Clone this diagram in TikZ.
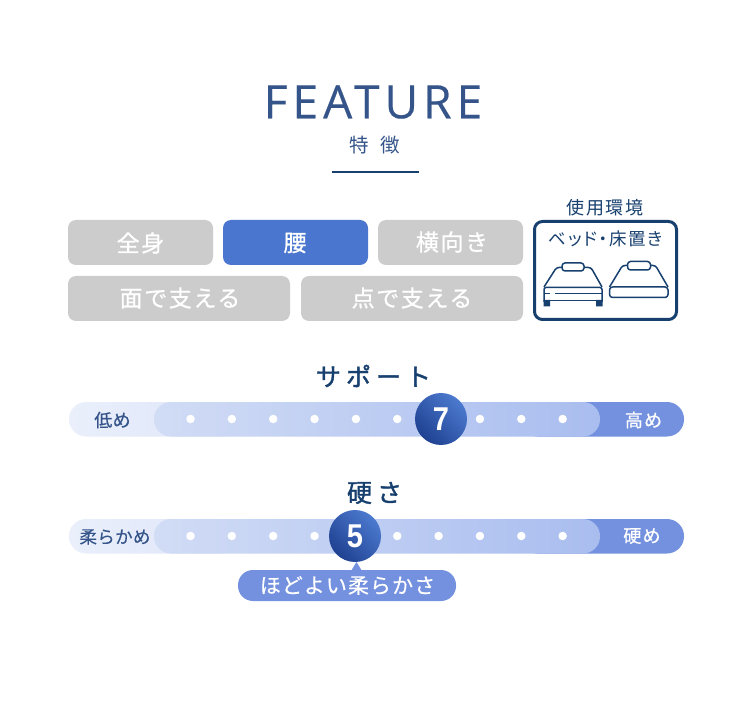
\documentclass[tikz,border=0pt]{standalone}
\usepackage{fontspec}
\usepackage{graphicx}
\setmainfont{Noto Sans CJK JP}
\newfontfamily\latinfeat[LetterSpace=11,FakeBold=0.3]{Open Sans}
\newfontfamily\numfont{Liberation Sans}
\newfontfamily\jpw[LetterSpace=7,FakeBold=0.8]{Noto Sans CJK JP}
\newfontfamily\jpn[LetterSpace=2,FakeBold=0.5]{Noto Sans CJK JP}
\newfontfamily\jpt[LetterSpace=60]{Noto Sans CJK JP}
\newfontfamily\jph[LetterSpace=20,FakeBold=1.5]{Noto Sans CJK JP}
\definecolor{navy}{HTML}{17406F}
\definecolor{ink}{HTML}{35558A}
\definecolor{chip}{HTML}{CCCCCC}
\definecolor{active}{HTML}{4A76CF}
\definecolor{midblue}{HTML}{7391DE}
\definecolor{balllight}{HTML}{4C7ACF}
\definecolor{balldark}{HTML}{1F4191}
\definecolor{paleL}{HTML}{EAEFFB}
\definecolor{paleR}{HTML}{DDE5F8}
\definecolor{innerL}{HTML}{D1DCF5}
\definecolor{innerR}{HTML}{A9BDEF}
\tikzset{
 chipbox/.style={fill=chip,rounded corners=8pt,draw=none},
 chiptext/.style={text=white,font=\jpw\fontsize{23}{23}\selectfont,inner sep=0pt,anchor=center},
 scaletitle/.style={text=navy,font=\jph\fontsize{25}{25}\selectfont,inner sep=0pt},
 endlabel/.style={text=ink,font=\jpn\fontsize{18}{18}\selectfont,inner sep=0pt},
 endlabelw/.style={text=white,font=\jpw\fontsize{18}{18}\selectfont,inner sep=0pt},
 dot/.style={circle,fill=white,inner sep=0pt,minimum size=8.5pt},
 ball/.style={circle,minimum size=52pt,inner sep=0pt,
   shading=axis,left color=balllight,right color=balldark,shading angle=-45,
   text=white},
 bedline/.style={draw=navy,line width=1.5pt,line join=round},
}
\newcommand{\scalebar}[2]{%
  \fill[midblue,rounded corners=17pt] (520,#1) rectangle (684,#1+34.5);
  \shade[left color=paleL,right color=paleR,rounded corners=17pt] (69,#1) rectangle (240,#1+34.5);
  \shade[left color=innerL,right color=innerR,rounded corners=17pt] (154,#1) rectangle (600,#1+34.5);
  \foreach \i in {0,...,9}{\node[dot] (d#2\i) at (190.5+41.35*\i,#1+17) {};}
}
\newcommand{\ballnum}[1]{\scalebox{.88}[1]{\fontsize{33}{33}\selectfont\numfont\bfseries #1}}
\begin{document}
\begin{tikzpicture}[x=1pt,y=-1pt]
\useasboundingbox[fill=white] (0,0) rectangle (750,719);
% heading
\node[text=ink,font=\latinfeat\fontsize{46}{46}\selectfont,inner sep=0pt] (title) at (373,102) {FEATURE};
\node[text=ink,font=\jpt\fontsize{19.5}{20}\selectfont,inner sep=0pt] (subtitle) at (374.5,145) {特徴};
\draw[navy,line width=2pt] (332,172) -- (419,172);
% chips
\fill[chipbox] (68,220) rectangle (213,265);
\node[chiptext] (c1) at (140.5,243) {全身};
\fill[chipbox,fill=active] (223,220) rectangle (368,265);
\node[chiptext] (c2) at (295,243) {腰};
\fill[chipbox] (378,220) rectangle (523,265);
\node[chiptext] (c3) at (452,242) {横向き};
\fill[chipbox] (68,276) rectangle (290,321);
\node[chiptext] (c4) at (180,298) {面で支える};
\fill[chipbox] (301,276) rectangle (523,321);
\node[chiptext] (c5) at (412,298) {点で支える};
% environment box
\node[text=navy,font=\fontsize{18}{18}\selectfont,inner sep=0pt] (envt) at (605,208) {\addfontfeature{LetterSpace=8}使用環境};
\draw[navy,line width=3pt,rounded corners=8pt,fill=white] (534.5,221.5) rectangle (676.5,319.5);
\node[text=navy,font=\fontsize{17.5}{18}\selectfont,inner sep=0pt] (envs) at (605.5,239) {\addfontfeature{RawFeature=+palt,LetterSpace=9}ベッド・床置き};
% bed 1
\draw[bedline,rounded corners=2.5pt] (544,287) -- (556.5,267.5) -- (591,267.5) -- (602,287);
\draw[bedline,fill=white,rounded corners=3pt] (562,263) rectangle (584,271);
\draw[bedline,rounded corners=2pt,fill=white] (544,302) -- (544,287.5) -- (602,287.5) -- (602,302);
\draw[bedline] (544,293.5) -- (550,293.5) (555,293.5) -- (602,293.5);
\draw[bedline] (544,300.5) -- (602,300.5);
\fill[navy] (543.5,300) rectangle (550,306.5) (596,300) rectangle (602.5,306.5);
% bed 2
\draw[bedline,rounded corners=2.5pt] (609.5,287) -- (622.5,265.5) -- (655.5,265.5) -- (668,287);
\draw[bedline,fill=white,rounded corners=3pt] (627.5,261.5) rectangle (650.5,270);
\draw[bedline,fill=white,rounded corners=3pt] (609.5,287) rectangle (668,297.5);
% support
\node[scaletitle] (t1) at (373.5,376) {サポート};
\scalebar{402}{a}
\node[endlabel] (l1) at (112.5,420) {低め};
\node[endlabelw] (r1) at (643.5,420) {高め};
\node[ball] (b1) at (441,419) {\ballnum{7}};
% hardness
\node[scaletitle] (t2) at (374.5,493) {硬さ};
\scalebar{519}{b}
\node[endlabel] (l2) at (115,537) {\fontsize{17.5}{18}\selectfont 柔らかめ};
\node[endlabelw] (r2) at (642,536) {硬め};
\fill[midblue] (351,571) -- (356.5,562) -- (362,571) -- cycle;
\node[ball] (b2) at (355,536) {\ballnum{5}};
\fill[midblue,rounded corners=15pt] (238,570) rectangle (456,601);
\node[text=white,font=\jpn\fontsize{21}{21}\selectfont,inner sep=0pt] (note) at (347.5,585.5) {\addfontfeature{LetterSpace=5}ほどよい柔らかさ};
\end{tikzpicture}
\end{document}
